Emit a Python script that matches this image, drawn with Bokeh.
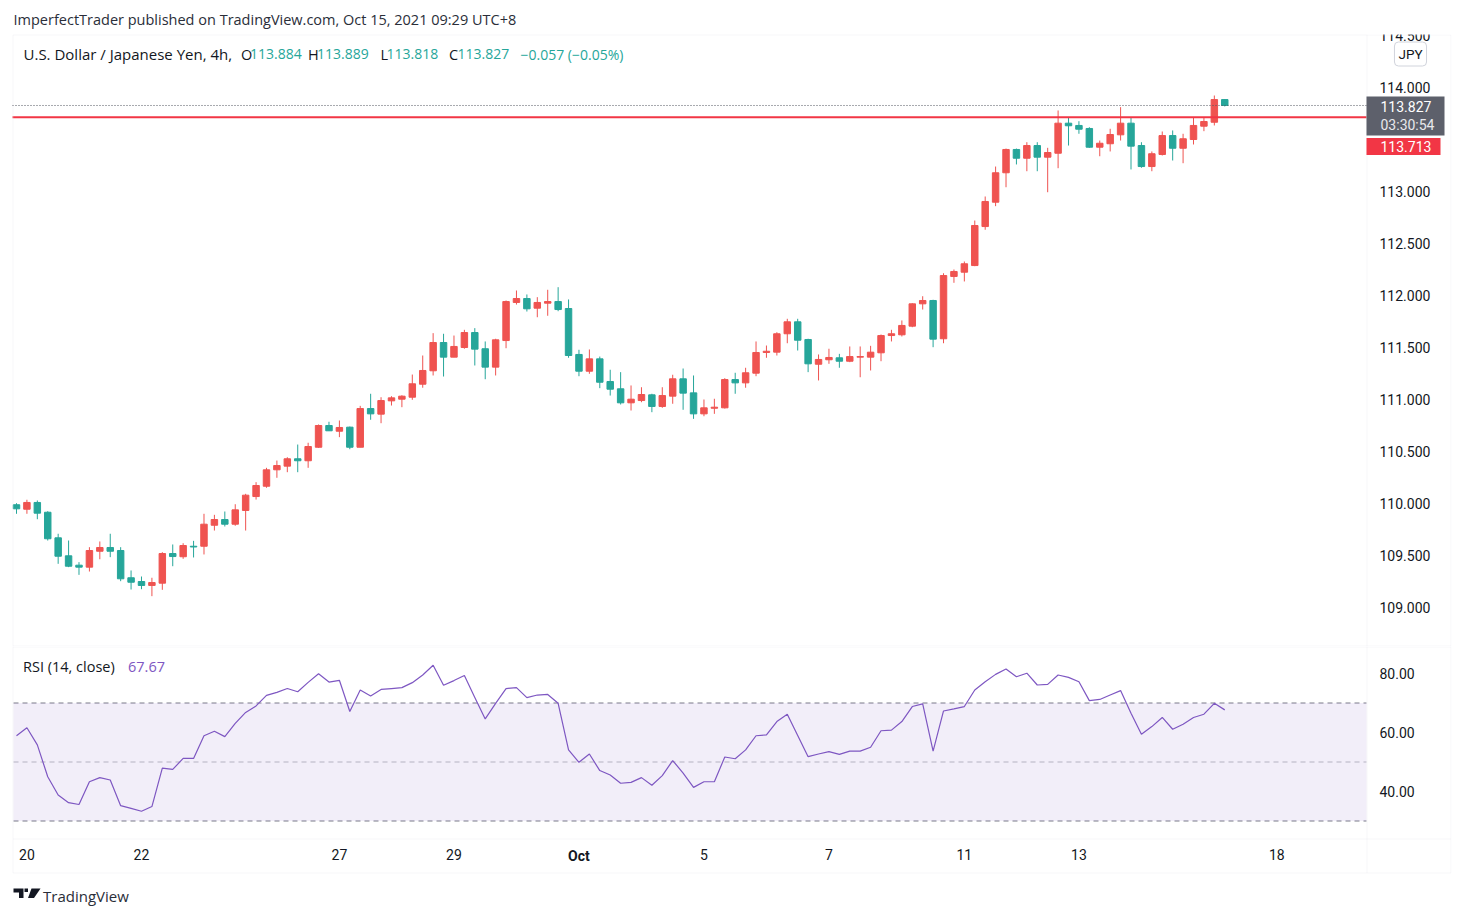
from bokeh.plotting import figure
from bokeh.layouts import column
from bokeh.models import (ColumnDataSource, Range1d, FixedTicker, NumeralTickFormatter,
                          Label, BoxAnnotation, PolyAnnotation)
from bokeh.embed import file_html
from bokeh.resources import INLINE

# ---------------- data: USD/JPY 4h candles ----------------
opens = [109.988, 109.945, 110.010, 109.916, 109.670, 109.497, 109.407, 109.388, 109.541, 109.577,
         109.548, 109.286, 109.250, 109.212, 109.234, 109.519, 109.488, 109.589, 109.589, 109.791,
         109.846, 109.801, 109.933, 110.067, 110.166, 110.324, 110.359, 110.430, 110.411, 110.541,
         110.750, 110.695, 110.734, 110.541, 110.913, 110.859, 110.987, 111.003, 111.022, 111.147,
         111.276, 111.548, 111.407, 111.500, 111.644, 111.488, 111.311, 111.567, 111.933, 111.971,
         111.878, 111.926, 111.942, 111.875, 111.433, 111.272, 111.391, 111.173, 111.103, 110.968,
         110.990, 111.045, 110.933, 111.032, 111.199, 111.064, 110.862, 110.916, 110.920, 111.192,
         111.160, 111.253, 111.452, 111.455, 111.632, 111.747, 111.577, 111.339, 111.382, 111.401,
         111.368, 111.407, 111.407, 111.449, 111.615, 111.622, 111.705, 111.920, 111.952, 111.584,
         112.183, 112.224, 112.288, 112.663, 112.897, 113.180, 113.404, 113.320, 113.442, 113.330,
         113.368, 113.657, 113.635, 113.606, 113.426, 113.459, 113.545, 113.657, 113.442, 113.240,
         113.356, 113.538, 113.416, 113.500, 113.628, 113.666, 113.884]
highs = [110.003, 110.036, 110.029, 109.926, 109.709, 109.644, 109.436, 109.580, 109.635, 109.709,
         109.580, 109.356, 109.298, 109.286, 109.532, 109.606, 109.618, 109.641, 109.901, 109.891,
         109.923, 109.993, 110.093, 110.205, 110.343, 110.413, 110.445, 110.567, 110.584, 110.760,
         110.786, 110.798, 110.740, 110.939, 111.055, 111.022, 111.032, 111.041, 111.240, 111.423,
         111.638, 111.632, 111.615, 111.670, 111.686, 111.558, 111.584, 111.952, 112.048, 112.010,
         111.984, 112.055, 112.080, 111.962, 111.478, 111.481, 111.413, 111.286, 111.263, 111.135,
         111.118, 111.055, 111.118, 111.238, 111.298, 111.231, 111.000, 111.007, 111.205, 111.257,
         111.305, 111.558, 111.519, 111.647, 111.776, 111.776, 111.584, 111.433, 111.488, 111.439,
         111.510, 111.510, 111.516, 111.625, 111.670, 111.760, 111.926, 111.993, 111.959, 112.214,
         112.250, 112.327, 112.721, 112.952, 113.240, 113.413, 113.413, 113.474, 113.474, 113.420,
         113.779, 113.714, 113.676, 113.618, 113.490, 113.603, 113.811, 113.709, 113.474, 113.385,
         113.577, 113.587, 113.555, 113.714, 113.714, 113.923, 113.889]
lows = [109.901, 109.901, 109.849, 109.644, 109.420, 109.388, 109.314, 109.346, 109.464, 109.484,
        109.253, 109.173, 109.176, 109.109, 109.170, 109.397, 109.468, 109.481, 109.510, 109.740,
        109.779, 109.786, 109.740, 110.038, 110.151, 110.247, 110.301, 110.301, 110.343, 110.535,
        110.699, 110.638, 110.522, 110.541, 110.805, 110.772, 110.942, 110.926, 110.997, 111.113,
        111.231, 111.221, 111.407, 111.488, 111.327, 111.195, 111.231, 111.493, 111.913, 111.846,
        111.791, 111.805, 111.849, 111.401, 111.224, 111.247, 111.109, 111.038, 110.952, 110.894,
        110.974, 110.878, 110.920, 110.959, 110.901, 110.814, 110.839, 110.862, 110.913, 111.055,
        111.113, 111.224, 111.401, 111.423, 111.541, 111.471, 111.263, 111.183, 111.343, 111.305,
        111.359, 111.214, 111.279, 111.368, 111.558, 111.606, 111.695, 111.865, 111.503, 111.541,
        112.122, 112.135, 112.282, 112.632, 112.859, 113.041, 113.260, 113.195, 113.195, 112.993,
        113.224, 113.442, 113.555, 113.420, 113.339, 113.385, 113.490, 113.212, 113.228, 113.195,
        113.346, 113.298, 113.272, 113.452, 113.580, 113.635, 113.818]
closes = [109.949, 110.010, 109.907, 109.661, 109.493, 109.397, 109.388, 109.548, 109.577, 109.541,
          109.276, 109.243, 109.212, 109.240, 109.519, 109.490, 109.596, 109.582, 109.801, 109.846,
          109.801, 109.939, 110.080, 110.173, 110.324, 110.365, 110.430, 110.411, 110.548, 110.750,
          110.699, 110.731, 110.541, 110.913, 110.862, 110.990, 111.016, 111.032, 111.151, 111.279,
          111.548, 111.407, 111.510, 111.644, 111.484, 111.311, 111.574, 111.942, 111.971, 111.872,
          111.933, 111.942, 111.865, 111.423, 111.272, 111.391, 111.166, 111.099, 110.968, 111.003,
          111.048, 110.933, 111.038, 111.199, 111.061, 110.862, 110.920, 110.926, 111.192, 111.160,
          111.257, 111.452, 111.464, 111.632, 111.747, 111.570, 111.343, 111.385, 111.404, 111.368,
          111.413, 111.413, 111.455, 111.615, 111.632, 111.712, 111.920, 111.952, 111.580, 112.192,
          112.231, 112.305, 112.673, 112.904, 113.180, 113.404, 113.320, 113.442, 113.330, 113.375,
          113.657, 113.632, 113.599, 113.426, 113.464, 113.548, 113.657, 113.436, 113.240, 113.363,
          113.538, 113.416, 113.507, 113.635, 113.673, 113.884, 113.827]

# RSI(14, close)
rsi = [58.9, 61.6, 55.8, 45.0, 38.8, 36.2, 35.6, 43.3, 44.7, 43.9,
       35.2, 34.3, 33.3, 34.9, 47.9, 47.5, 51.2, 51.2, 58.9, 60.4,
       58.6, 63.1, 66.8, 69.0, 72.6, 73.6, 74.9, 73.8, 77.0, 79.9,
       77.1, 77.7, 67.1, 74.4, 72.4, 74.6, 74.9, 75.2, 76.9, 79.5,
       82.8, 76.0, 77.6, 79.3, 71.9, 64.6, 69.9, 74.9, 75.2, 71.8,
       72.7, 72.9, 69.9, 54.1, 49.9, 52.7, 47.1, 45.6, 42.8, 43.1,
       44.7, 42.1, 45.4, 50.5, 46.2, 41.4, 43.3, 43.3, 51.7, 51.1,
       54.1, 58.9, 59.2, 63.7, 66.2, 59.0, 51.8, 52.7, 53.5, 52.6,
       53.7, 53.7, 55.0, 60.6, 60.8, 63.7, 68.8, 69.7, 53.7, 67.3,
       68.0, 68.8, 74.4, 77.2, 79.7, 81.5, 78.9, 80.1, 76.1, 76.3,
       79.5, 78.7, 77.2, 70.8, 71.2, 72.7, 74.2, 66.5, 59.4, 62.0,
       65.1, 61.1, 62.8, 65.1, 66.2, 69.9, 67.67]

price_ticks = [109.0, 109.5, 110.0, 110.5, 111.0, 111.5, 112.0, 112.5, 113.0, 114.0, 114.5]
rsi_ticks = [40, 60, 80]
rsi_levels = [30, 50, 70]
date_ticks = [2, 13, 32, 43, 55, 67, 79, 92, 103, 122]
date_labels = ["20", "22", "27", "29", "Oct", "5", "7", "11", "13", "18"]
resistance = 113.713
countdown = "03:30:54"

# ---------------- geometry (page pixels) ----------------
W = 1464
H_MAIN, H_RSI = 646, 271
BOX_L, PANE_R, BOX_R = 12, 1366, 1451
BAR_PX = 10.416
FIRST_BAR_PX = 16
YEN_PX = 104.0        # pixels per 1.0 JPY
RSI_PX = 2.95         # pixels per RSI point
LABEL_X = 1379        # left edge of scale labels

AX_FONT = "Roboto"
TX_FONT = "Open Sans"
DARK = "#131722"
TEAL = "#26a69a"
RED = "#ef5350"
PURPLE = "#7e57c2"
LINE = "#e0e3eb"


def mx(px):
    return 1 + (px - FIRST_BAR_PX) / BAR_PX


def my(py):
    return 114 - (py - 87) / YEN_PX


def ry(py):
    return 80 - (py - 673) / RSI_PX


def style_scale(ax, fmt, ticks):
    ax.ticker = FixedTicker(ticks=ticks)
    ax.formatter = NumeralTickFormatter(format=fmt)
    ax.axis_line_color = None
    ax.major_tick_line_color = None
    ax.minor_tick_line_color = None
    ax.major_tick_out = 0
    ax.major_tick_in = 0
    ax.major_label_standoff = LABEL_X - BOX_R
    ax.major_label_text_font = AX_FONT
    ax.major_label_text_font_size = "14px"
    ax.major_label_text_color = DARK


bars = list(range(1, len(opens) + 1))
x_range = Range1d(mx(0), mx(BOX_R))

# ---------------- price pane ----------------
p = figure(width=W, height=H_MAIN, x_range=x_range,
           y_range=Range1d(my(H_MAIN), my(0)),
           output_backend="svg", toolbar_location=None,
           x_axis_location=None, y_axis_location="right",
           min_border_left=0, min_border_right=W - BOX_R,
           min_border_top=0, min_border_bottom=0)
p.grid.grid_line_color = None
p.outline_line_color = None
p.background_fill_color = "white"
p.border_fill_color = "white"

src = ColumnDataSource(dict(
    x=bars, open=opens, close=closes, high=highs, low=lows,
    top=[max(o, c) for o, c in zip(opens, closes)],
    bottom=[min(o, c) for o, c in zip(opens, closes)],
    color=[RED if c >= o else TEAL for o, c in zip(opens, closes)],
))
p.segment(x0="x", y0="low", x1="x", y1="high", line_color="color", line_width=1, source=src)
p.vbar(x="x", width=0.62, top="top", bottom="bottom", fill_color="color",
       line_color="color", line_width=1, source=src)

# last price (dotted) and horizontal level (solid red)
p.segment(x0=[mx(BOX_L)], y0=[closes[-1]], x1=[mx(PANE_R)], y1=[closes[-1]],
          line_color="#50535e", line_dash="1 2", line_width=1)
p.segment(x0=[mx(BOX_L)], y0=[resistance], x1=[mx(PANE_R)], y1=[resistance],
          line_color="#f23645", line_width=2)

style_scale(p.yaxis[0], "0.000", price_ticks)

# chart box and price scale separator
p.add_layout(PolyAnnotation(xs=[mx(BOX_L + 0.5), mx(BOX_R - 0.5), mx(BOX_R - 0.5), mx(BOX_L + 0.5)],
                            ys=[my(34.5), my(34.5), my(645.5), my(645.5)],
                            fill_color=None, line_color=LINE, line_width=1))
p.add_layout(PolyAnnotation(xs=[mx(PANE_R + 0.5), mx(PANE_R + 0.5)],
                            ys=[my(34.5), my(645.5)],
                            fill_color=None, line_color=LINE, line_width=1))
# the box top trims the highest scale label
p.add_layout(BoxAnnotation(left=mx(PANE_R + 1), right=mx(BOX_R + 5), top=my(-5), bottom=my(34),
                           fill_color="white", fill_alpha=1.0, line_color=None))

# header line
p.add_layout(Label(x=mx(13), y=my(19), text="ImperfectTrader published on TradingView.com, Oct 15, 2021 09:29 UTC+8",
                   text_font=TX_FONT, text_font_size="14.5px", text_color="#2a2e39",
                   text_baseline="middle"))

# symbol legend
chg = closes[-1] - closes[-2]
pct = chg / closes[-2] * 100
legend_parts = [
    ("U.S. Dollar / Japanese Yen, 4h,", 23, DARK, "15px"),
    ("O", 240.5, DARK, "14.5px"), (f"{opens[-1]:.3f}", 249.5, TEAL, "14px"),
    ("H", 307.5, DARK, "14.5px"), (f"{highs[-1]:.3f}", 316.5, TEAL, "14px"),
    ("L", 380, DARK, "14.5px"), (f"{lows[-1]:.3f}", 386, TEAL, "14px"),
    ("C", 448.5, DARK, "14.5px"), (f"{closes[-1]:.3f}", 457, TEAL, "14px"),
    (f"{chg:+.3f} ({pct:+.2f}%)".replace("-", "\u2212"), 520, TEAL, "14px"),
]
for txt, px, col, size in legend_parts:
    p.add_layout(Label(x=mx(px), y=my(53.5), text=txt, text_font=TX_FONT, text_font_size=size,
                       text_color=col, text_baseline="middle"))

# currency badge
p.add_layout(Label(x=mx(1410), y=my(53.5), text="JPY", text_font=AX_FONT, text_font_size="13.5px",
                   text_color=DARK, text_align="center", text_baseline="middle",
                   border_line_color="#d1d4dc", border_radius=4, padding=4,
                   background_fill_color="white"))

# last price tag with countdown
p.add_layout(BoxAnnotation(left=mx(PANE_R), right=mx(1444), top=my(96), bottom=my(135),
                           fill_color="#5d606b", fill_alpha=1.0, line_color=None))
p.add_layout(Label(x=mx(LABEL_X + 1), y=my(106), text=f"{closes[-1]:.3f}", text_font=AX_FONT,
                   text_font_size="14px", text_color="white", text_baseline="middle"))
p.add_layout(Label(x=mx(LABEL_X + 1), y=my(124.5), text=countdown, text_font=AX_FONT,
                   text_font_size="14px", text_color="#e8e8ec", text_baseline="middle"))
# level tag
p.add_layout(BoxAnnotation(left=mx(PANE_R), right=mx(1440), top=my(137.5), bottom=my(154.5),
                           fill_color="#f23645", fill_alpha=1.0, line_color=None))
p.add_layout(Label(x=mx(LABEL_X + 1), y=my(146), text=f"{resistance:.3f}", text_font=AX_FONT,
                   text_font_size="14px", text_color="white", text_baseline="middle"))

# ---------------- RSI pane ----------------
q = figure(width=W, height=H_RSI, x_range=x_range,
           y_range=Range1d(ry(H_MAIN + H_RSI), ry(H_MAIN)),
           output_backend="svg", toolbar_location=None,
           x_axis_location="below", y_axis_location="right",
           min_border_left=0, min_border_right=W - BOX_R,
           min_border_top=0, min_border_bottom=0)
q.grid.grid_line_color = None
q.outline_line_color = None
q.background_fill_color = "white"
q.border_fill_color = "white"

q.add_layout(BoxAnnotation(left=mx(BOX_L + 1), right=mx(PANE_R), bottom=rsi_levels[0], top=rsi_levels[2],
                           fill_color=PURPLE, fill_alpha=0.1, line_color=None))
for lvl, alpha in zip(rsi_levels, [1.0, 0.5, 1.0]):
    q.segment(x0=[mx(BOX_L + 1)], y0=[lvl], x1=[mx(PANE_R)], y1=[lvl],
              line_color="#787b86", line_alpha=alpha, line_dash="5 4", line_width=1)
q.line(bars, rsi, line_color=PURPLE, line_width=1.2)

style_scale(q.yaxis[0], "0.00", rsi_ticks)

xa = q.xaxis[0]
xa.ticker = FixedTicker(ticks=date_ticks)
xa.major_label_overrides = {t: ("" if lab == "Oct" else lab) for t, lab in zip(date_ticks, date_labels)}
xa.axis_line_color = None
xa.major_tick_line_color = None
xa.minor_tick_line_color = None
xa.major_tick_out = 0
xa.major_tick_in = 0
xa.major_label_standoff = 848 - (H_MAIN + H_RSI)
xa.major_label_text_font = AX_FONT
xa.major_label_text_font_size = "14px"
xa.major_label_text_color = DARK
for t, lab in zip(date_ticks, date_labels):
    if lab == "Oct":
        q.add_layout(Label(x=t, y=ry(855.5), text=lab, text_font=AX_FONT, text_font_size="14px",
                           text_font_style="bold", text_color=DARK, text_align="center",
                           text_baseline="middle"))

q.add_layout(Label(x=mx(22.5), y=ry(666), text="RSI (14, close)", text_font=TX_FONT,
                   text_font_size="14.5px", text_color=DARK, text_baseline="middle"))
q.add_layout(Label(x=mx(127.5), y=ry(666), text=f"{rsi[-1]:.2f}", text_font=TX_FONT,
                   text_font_size="14.5px", text_color=PURPLE, text_baseline="middle"))

# chart box: sides, time scale row and scale separator
q.add_layout(PolyAnnotation(xs=[mx(BOX_L + 0.5), mx(BOX_R - 0.5), mx(BOX_R - 0.5), mx(BOX_L + 0.5)],
                            ys=[ry(640), ry(640), ry(872.5), ry(872.5)],
                            fill_color=None, line_color=LINE, line_width=1))
q.add_layout(PolyAnnotation(xs=[mx(BOX_L + 0.5), mx(BOX_R - 0.5)], ys=[ry(838.5), ry(838.5)],
                            fill_color=None, line_color=LINE, line_width=1))
q.add_layout(PolyAnnotation(xs=[mx(BOX_L + 0.5), mx(BOX_R - 0.5)], ys=[ry(646.5), ry(646.5)],
                            fill_color=None, line_color=LINE, line_width=1))
q.add_layout(PolyAnnotation(xs=[mx(PANE_R + 0.5), mx(PANE_R + 0.5)], ys=[ry(640), ry(872.5)],
                            fill_color=None, line_color=LINE, line_width=1))

# footer brand mark and name
q.add_layout(PolyAnnotation(xs=[mx(13), mx(23), mx(23), mx(18.5), mx(18.5), mx(13)],
                            ys=[ry(888), ry(888), ry(897.5), ry(897.5), ry(892), ry(892)],
                            fill_color="#131722", fill_alpha=1, line_color=None))
q.add_layout(PolyAnnotation(xs=[mx(24), mx(27.5), mx(27.5), mx(24)],
                            ys=[ry(888), ry(888), ry(891.5), ry(891.5)],
                            fill_color="#131722", fill_alpha=1, line_color=None))
q.add_layout(PolyAnnotation(xs=[mx(31), mx(40), mx(33.5), mx(27.5)],
                            ys=[ry(888), ry(888), ry(897.5), ry(897.5)],
                            fill_color="#131722", fill_alpha=1, line_color=None))
q.add_layout(Label(x=mx(42.5), y=ry(895), text="TradingView", text_font=TX_FONT,
                   text_font_size="15px", text_color="#2a2e39", text_baseline="middle"))

layout = column(p, q, spacing=0)
open("out.html", "w").write(file_html(layout, INLINE))
